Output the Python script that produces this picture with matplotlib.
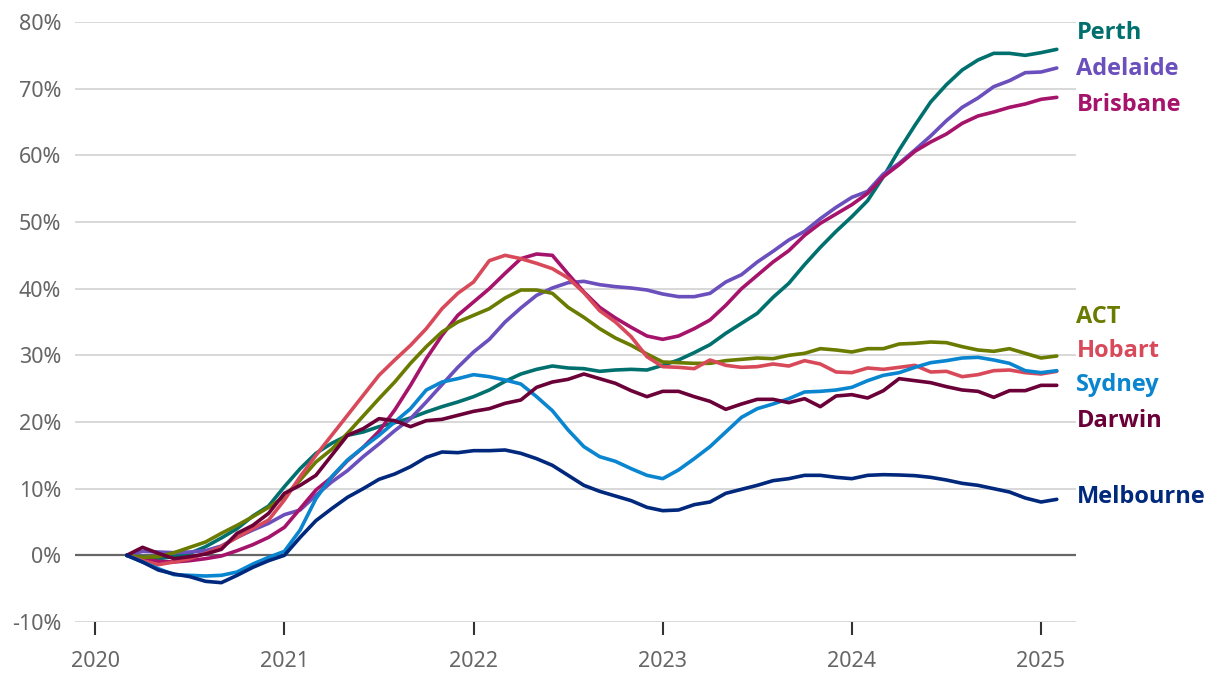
import matplotlib
matplotlib.use("Agg")
import matplotlib.pyplot as plt
import numpy as np

# Monthly, March 2020 - February 2025 (cumulative % change in home values)
start_year, start_month, n_months = 2020, 3, 60

perth = [0, -0.3, -0.5, -0.2, 0.3, 1.3, 2.6, 4.0, 5.9, 7.4,
         10.3, 13.0, 15.3, 16.8, 18.0, 18.5, 19.3, 19.9, 20.6, 21.5, 22.3, 23.0,
         23.8, 24.8, 26.1, 27.2, 27.9, 28.4, 28.1, 28.0, 27.6, 27.8, 27.9, 27.8,
         28.5, 29.3, 30.4, 31.6, 33.3, 34.8, 36.3, 38.7, 40.8, 43.6, 46.2, 48.6,
         50.8, 53.2, 56.8, 60.8, 64.5, 68.0, 70.6, 72.8, 74.3, 75.3, 75.3, 75.0,
         75.4, 75.9]
adelaide = [0, 0.6, 0.5, 0.4, 0.5, 0.7, 1.4, 2.7, 3.8, 4.8,
            6.1, 6.8, 9.0, 11.0, 12.7, 14.8, 16.7, 18.7, 20.5, 23.0, 25.6, 28.2,
            30.5, 32.4, 35.0, 37.1, 39.0, 40.1, 40.9, 41.1, 40.6, 40.3, 40.1, 39.8,
            39.2, 38.8, 38.8, 39.3, 41.0, 42.1, 44.0, 45.6, 47.3, 48.6, 50.5, 52.2,
            53.7, 54.6, 57.2, 58.8, 60.8, 62.9, 65.2, 67.2, 68.6, 70.3, 71.2, 72.4,
            72.5, 73.1]
brisbane = [0, -0.5, -0.9, -1.0, -0.8, -0.5, -0.1, 0.7, 1.6, 2.7,
            4.2, 7.0, 9.8, 11.7, 14.2, 16.2, 18.6, 21.8, 25.5, 29.5, 33.0, 36.0,
            38.0, 40.0, 42.3, 44.5, 45.2, 45.0, 42.2, 39.5, 37.2, 35.6, 34.2, 32.9,
            32.4, 32.9, 34.0, 35.3, 37.5, 40.0, 42.0, 44.0, 45.7, 48.0, 49.8, 51.2,
            52.6, 54.3, 56.8, 58.6, 60.6, 62.0, 63.2, 64.8, 65.9, 66.5, 67.2, 67.7,
            68.4, 68.7]
act = [0, -0.3, -0.2, 0.4, 1.2, 2.0, 3.3, 4.5, 5.8, 7.2,
       8.8, 11.3, 14.0, 15.9, 18.3, 20.9, 23.5, 26.0, 28.8, 31.3, 33.5, 35.0,
       36.0, 37.0, 38.6, 39.8, 39.8, 39.3, 37.2, 35.7, 34.0, 32.6, 31.5, 30.2,
       29.0, 28.9, 28.8, 28.8, 29.2, 29.4, 29.6, 29.5, 30.0, 30.3, 31.0, 30.8,
       30.5, 31.0, 31.0, 31.7, 31.8, 32.0, 31.9, 31.3, 30.8, 30.6, 31.0, 30.3,
       29.6, 29.9]
hobart = [0, -0.8, -1.4, -1.0, -0.5, 0.3, 1.3, 2.7, 4.0, 5.3,
          8.3, 11.8, 15.0, 18.0, 21.0, 24.0, 27.0, 29.3, 31.5, 34.0, 37.0, 39.3,
          41.0, 44.2, 45.0, 44.5, 43.8, 43.0, 41.6, 39.4, 36.7, 35.0, 32.8, 29.8,
          28.3, 28.2, 28.0, 29.3, 28.5, 28.2, 28.3, 28.7, 28.4, 29.2, 28.7, 27.5,
          27.4, 28.1, 27.9, 28.2, 28.5, 27.5, 27.6, 26.8, 27.1, 27.7, 27.8, 27.4,
          27.2, 27.6]
sydney = [0, -1.0, -2.0, -2.9, -3.0, -3.1, -3.0, -2.5, -1.3, -0.3,
          0.6, 3.8, 8.5, 11.8, 14.3, 16.2, 18.0, 20.0, 22.0, 24.8, 26.0, 26.5,
          27.1, 26.8, 26.3, 25.7, 23.8, 21.7, 18.8, 16.3, 14.8, 14.1, 13.0, 12.0,
          11.5, 12.8, 14.5, 16.3, 18.5, 20.7, 22.0, 22.7, 23.5, 24.5, 24.6, 24.8,
          25.2, 26.2, 27.0, 27.4, 28.2, 28.9, 29.2, 29.6, 29.7, 29.3, 28.8, 27.7,
          27.4, 27.7]
darwin = [0, 1.2, 0.3, -0.5, -0.2, 0.2, 0.9, 3.3, 4.5, 6.3,
          9.3, 10.5, 12.0, 15.0, 18.0, 19.0, 20.5, 20.2, 19.3, 20.2, 20.4, 21.0,
          21.6, 22.0, 22.8, 23.3, 25.2, 26.0, 26.4, 27.2, 26.5, 25.8, 24.7, 23.8,
          24.6, 24.6, 23.8, 23.1, 21.9, 22.7, 23.4, 23.4, 22.9, 23.5, 22.3, 23.9,
          24.1, 23.6, 24.7, 26.5, 26.2, 25.9, 25.3, 24.8, 24.6, 23.7, 24.7, 24.7,
          25.5, 25.5]
melbourne = [0, -1.0, -2.2, -2.8, -3.2, -3.9, -4.1, -3.0, -1.8, -0.8,
             0.0, 2.7, 5.2, 7.0, 8.7, 10.0, 11.4, 12.2, 13.3, 14.7, 15.5, 15.4,
             15.7, 15.7, 15.8, 15.3, 14.5, 13.5, 12.0, 10.5, 9.6, 8.9, 8.2, 7.2,
             6.7, 6.8, 7.6, 8.0, 9.3, 9.9, 10.5, 11.2, 11.5, 12.0, 12.0, 11.7,
             11.5, 12.0, 12.1, 12.05, 11.95, 11.7, 11.3, 10.8, 10.5, 10.0, 9.5, 8.6,
             8.0, 8.4]

series_names = ["Perth", "Adelaide", "Brisbane", "ACT", "Hobart", "Sydney", "Darwin", "Melbourne"]
series_values = [perth, adelaide, brisbane, act, hobart, sydney, darwin, melbourne]
series_colors = ["#00706f", "#6a4fbd", "#a5136b", "#6a7b00", "#d8495a", "#0a85d0", "#6b0038", "#00287c"]
label_values = [78.3, 72.9, 67.5, 35.7, 30.6, 25.5, 20.1, 8.7]

year_ticks = [2020, 2021, 2022, 2023, 2024, 2025]
y_ticks = [-10, 0, 10, 20, 30, 40, 50, 60, 70, 80]

x = start_year + (start_month - 1 + np.arange(n_months)) / 12.0

fig = plt.figure(figsize=(12.2, 6.78), dpi=100)
ax = fig.add_axes([75 / 1220, 56 / 678, (1076 - 75) / 1220, 600 / 678])
ax.set_xlim(2019.893, 2025.185)
ax.set_ylim(-10, 80)

for yv in y_ticks:
    if yv == 0:
        ax.axhline(yv, color="#666666", lw=1.6, zorder=2)
    else:
        ax.axhline(yv, color="#d6d6d6", lw=1.3, zorder=1)

for name, vals, col, ly in zip(series_names, series_values, series_colors, label_values):
    ax.plot(x, vals, color=col, lw=2.6, zorder=3, solid_joinstyle="round", solid_capstyle="round")
    ax.text(2025.187, ly, name, color=col, fontsize=17, fontweight="bold",
            family=["Open Sans", "Roboto", "DejaVu Sans"], va="center", ha="left", clip_on=False)

for s in ax.spines.values():
    s.set_visible(False)

ax.set_yticks(y_ticks)
ax.set_yticklabels([f"{v}%" for v in y_ticks])
ax.set_xticks(year_ticks)
ax.set_xticklabels([str(v) for v in year_ticks])
ax.tick_params(axis="y", length=0, pad=10, labelsize=15.5, labelcolor="#666666")
ax.tick_params(axis="x", length=9, width=1.5, color="#333333", pad=12,
               labelsize=15.5, labelcolor="#666666", direction="out")
for lab in ax.get_xticklabels() + ax.get_yticklabels():
    lab.set_family("Noto Sans")

fig.savefig("out.png", dpi=100, facecolor="white")
